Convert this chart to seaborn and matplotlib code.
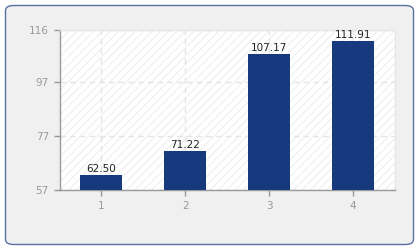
import matplotlib
matplotlib.use("Agg")
import matplotlib.pyplot as plt
from matplotlib.patches import FancyBboxPatch, Rectangle
import seaborn as sns
import pandas as pd

categories = ["1", "2", "3", "4"]
values = [62.50, 71.22, 107.17, 111.91]
yticks = [57, 77, 97, 116]

df = pd.DataFrame({"cat": categories, "val": values})

sns.set_style("white")
plt.rcParams["font.family"] = ["DejaVu Sans"]
plt.rcParams["hatch.linewidth"] = 0.8

fig = plt.figure(figsize=(4.2, 2.5), dpi=100)
fig.patch.set_facecolor("white")
box = FancyBboxPatch((5.5 / 420, 5.5 / 250), 408 / 420, 239 / 250,
                     boxstyle="round,pad=0,rounding_size=0.02",
                     transform=fig.transFigure, facecolor="#f0f0f0",
                     edgecolor="#5b6fa6", linewidth=1.0, zorder=-10)
fig.patches.append(box)

ax = fig.add_axes([60 / 420, 1 - 190 / 250, 335 / 420, 160 / 250])
ax.set_zorder(1)
ax.set_facecolor("white")
ax.add_patch(Rectangle((0, 0), 1, 1, transform=ax.transAxes, facecolor="white",
                       edgecolor="#efefef", hatch="////", linewidth=0, zorder=0))

sns.barplot(data=df, x="cat", y="val", color="#173a7e", saturation=1, width=0.5,
            linewidth=0, ax=ax, zorder=3)

ax.set_xlim(-0.49, 3.5)
ax.set_ylim(57, 116)
ax.set_yticks(yticks)
ax.set_xlabel("")
ax.set_ylabel("")

ax.grid(True, color="#e4e4e4", linestyle=(0, (4, 3)), linewidth=1.0, zorder=1)
ax.set_axisbelow(True)

for s in ["top", "right"]:
    ax.spines[s].set_color("#e6e6e6")
    ax.spines[s].set_linewidth(1.0)
for s in ["left", "bottom"]:
    ax.spines[s].set_color("#999999")
    ax.spines[s].set_linewidth(1.0)

ax.tick_params(axis="both", colors="#999999", labelcolor="#999999", labelsize=7.5,
               length=4, width=1, direction="out", left=True, bottom=True, pad=4)

for i, v in enumerate(values):
    ax.text(i, v + 0.4, f"{v:.2f}", ha="center", va="bottom", fontsize=7.5, color="#222222", zorder=5)

fig.savefig("out.png", dpi=100)
